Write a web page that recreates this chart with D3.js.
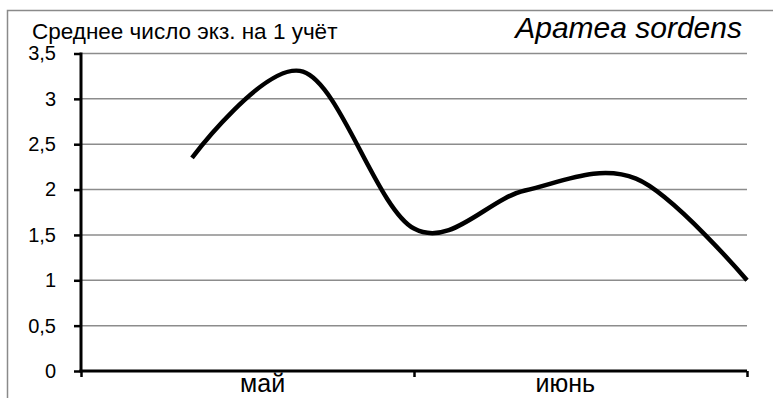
<!DOCTYPE html>
<html>
<head>
<meta charset="utf-8">
<script src="https://cdn.jsdelivr.net/npm/d3@7"></script>
<style>
  html, body { margin: 0; padding: 0; background: #fff; }
  svg { display: block; }
  text { font-family: "Liberation Sans", Arial, sans-serif; fill: #000; }
</style>
</head>
<body>
<svg id="chart" width="773" height="398"></svg>
<script>
// ---- data ----
const decades = [1, 2, 3, 4, 5, 6];              // 10-day periods (May: 1-3, June: 4-6)
const values  = [2.35, 3.3, 1.57, 1.99, 2.12, 1.0]; // mean number of specimens per count
const months  = ["май", "июнь"];
const monthBounds = [0, 3, 6];                   // decade boundaries of months
const yTicks  = [0, 0.5, 1, 1.5, 2, 2.5, 3, 3.5];
const yTitle  = "Среднее число экз. на 1 учёт";
const species = "Apamea sordens";

// ---- layout ----
const W = 773, H = 398;
const pLeft = 81, pRight = 747, pTop = 53.5, pBottom = 371;

const svg = d3.select("#chart");

// frame
svg.append("rect")
  .attr("x", 7.5).attr("y", 10.5)
  .attr("width", W + 10).attr("height", H + 10)
  .attr("fill", "none").attr("stroke", "#8a8a8a").attr("stroke-width", 1.5);

const x = d3.scaleLinear().domain([0, 6]).range([pLeft, pRight]);
const y = d3.scaleLinear().domain([0, 3.5]).range([pBottom, pTop]);
const xm = d3.scaleBand().domain(months).range([pLeft, pRight]).paddingInner(0).paddingOuter(0.1);

// gridlines
svg.append("g")
  .selectAll("line")
  .data(yTicks.filter(d => d > 0))
  .join("line")
  .attr("x1", pLeft).attr("x2", pRight)
  .attr("y1", d => y(d)).attr("y2", d => y(d))
  .attr("stroke", "#8c8c8c").attr("stroke-width", 1.5);

// y axis
const yAxis = svg.append("g")
  .attr("transform", `translate(${pLeft},0)`)
  .call(d3.axisLeft(y).tickValues(yTicks).tickSize(7).tickPadding(18)
    .tickFormat(d => d3.format("")(d).replace(".", ",")));
yAxis.select(".domain").attr("stroke", "#000").attr("stroke-width", 3).attr("d", `M0,${pTop - 1}V${pBottom}`);
yAxis.selectAll(".tick line").attr("stroke", "#000").attr("stroke-width", 2.5);
yAxis.selectAll(".tick text")
  .attr("font-size", 20)
  .attr("font-family", "Liberation Sans, Arial, sans-serif")
  .attr("fill", "#000");

// x axis
const xAxis = svg.append("g")
  .attr("transform", `translate(0,${pBottom})`)
  .call(d3.axisBottom(x).tickValues(monthBounds).tickSize(6).tickFormat(""));
xAxis.select(".domain").attr("stroke", "#000").attr("stroke-width", 3).attr("d", `M${pLeft - 1.5},0H${pRight}`);
xAxis.selectAll(".tick line").attr("stroke", "#000").attr("stroke-width", 2.5);

// month labels
svg.append("g")
  .selectAll("text")
  .data(months)
  .join("text")
  .attr("x", d => xm(d) + xm.bandwidth() / 2)
  .attr("y", 391.5)
  .attr("text-anchor", "middle")
  .attr("font-size", 25)
  .text(d => d);

// line
const line = d3.line()
  .x((d, i) => x(decades[i]))
  .y(d => y(d))
  .curve(d3.curveCardinal.tension(0));

svg.append("path")
  .datum(values)
  .attr("d", line)
  .attr("fill", "none")
  .attr("stroke", "#000")
  .attr("stroke-width", 4.5)
  .attr("stroke-linecap", "butt")
  .attr("stroke-linejoin", "round");

// titles
svg.append("text")
  .attr("x", 32).attr("y", 39)
  .attr("font-size", 22.5)
  .text(yTitle);

svg.append("text")
  .attr("x", 742).attr("y", 38)
  .attr("text-anchor", "end")
  .attr("font-size", 30)
  .attr("font-style", "italic")
  .text(species);
</script>
</body>
</html>
